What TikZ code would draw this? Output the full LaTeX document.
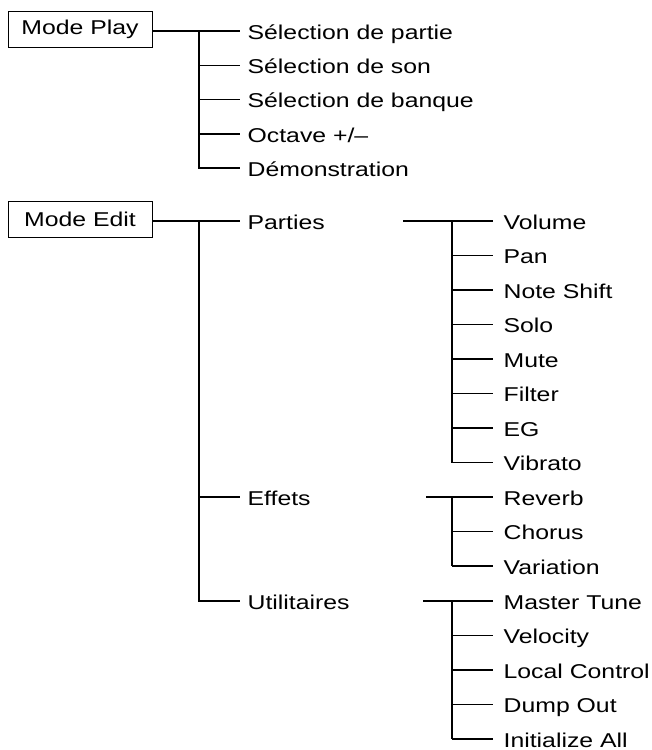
\documentclass[tikz,border=0pt]{standalone}
\usepackage{fontspec}
\setmainfont{Liberation Sans}[FakeStretch=1.24]
\begin{document}
\begin{tikzpicture}[x=1pt,y=-1pt,line width=1.3pt,
  txt/.style={anchor=base west,inner ysep=0pt,font=\fontsize{20}{24}\selectfont},
  lvl1/.style={txt,inner xsep=7pt},
  lvl2/.style={txt,inner xsep=10pt},
  modebox/.style={draw,line width=1pt,minimum width=144pt,minimum height=36pt,inner sep=0pt,font=\fontsize{20}{24}\selectfont}]
\useasboundingbox (0,0) rectangle (651,750);
% ---------- Mode Play ----------
\node[modebox] (mp) at (80,29) {Mode Play};
\coordinate (jp) at (199,31);
\node[lvl1] (p1) at (240,39) {Sélection de partie};
\node[lvl1] (p2) at (240,73.3) {Sélection de son};
\node[lvl1] (p3) at (240,107.6) {Sélection de banque};
\node[lvl1] (p4) at (240,142) {Octave +/–};
\node[lvl1] (p5) at (240,176) {Démonstration};
\coordinate (jp5) at (199,168);
\draw (mp.east |- jp) -- (jp) -- (jp -| p1.west);
\draw (jp) -- (jp5) -- (jp5 -| p5.west);
\foreach \n/\y in {p2/65.3,p3/99.6,p4/134}{
  \coordinate (j\n) at (199,\y);
  \draw (j\n) -- (j\n -| \n.west);
}
% ---------- Mode Edit ----------
\node[modebox] (me) at (80,219) {Mode Edit};
\coordinate (je) at (199,221);
\node[lvl1] (e1) at (240,229) {Parties};
\node[lvl1] (e2) at (240,505) {Effets};
\node[lvl1] (e3) at (240,609) {Utilitaires};
\coordinate (je2) at (199,497);
\coordinate (je3) at (199,601);
\draw (me.east |- je) -- (je) -- (je -| e1.west);
\draw (je) -- (je3) -- (je3 -| e3.west);
\draw (je2) -- (je2 -| e2.west);
% Parties
\coordinate (sa) at (403,221);
\coordinate (ja) at (452,221);
\coordinate (jaend) at (452,462.5);
\draw (sa) -- (ja);
\draw (ja) -- (jaend);
\foreach \n/\t/\y in {a1/Volume/221,a2/Pan/255.5,a3/Note Shift/290,a4/Solo/324.5,a5/Mute/359,a6/Filter/393.5,a7/EG/428,a8/Vibrato/462.5}{
  \node[lvl2] (\n) at (493,\y+8) {\t};
  \coordinate (j\n) at (452,\y);
  \draw (j\n) -- (j\n -| \n.west);
}
% Effets
\coordinate (sb) at (426,497);
\coordinate (jb) at (452,497);
\coordinate (jbend) at (452,566);
\draw (sb) -- (jb);
\draw (jb) -- (jbend);
\foreach \n/\t/\y in {b1/Reverb/497,b2/Chorus/531.5,b3/Variation/566}{
  \node[lvl2] (\n) at (493,\y+8) {\t};
  \coordinate (j\n) at (452,\y);
  \draw (j\n) -- (j\n -| \n.west);
}
% Utilitaires
\coordinate (sc) at (423,601);
\coordinate (jc) at (452,601);
\coordinate (jcend) at (452,739);
\draw (sc) -- (jc);
\draw (jc) -- (jcend);
\foreach \n/\t/\y in {c1/Master Tune/601,c2/Velocity/635.5,c3/Local Control/670,c4/Dump Out/704.5,c5/Initialize All/739}{
  \node[lvl2] (\n) at (493,\y+8) {\t};
  \coordinate (j\n) at (452,\y);
  \draw (j\n) -- (j\n -| \n.west);
}
\end{tikzpicture}
\end{document}
